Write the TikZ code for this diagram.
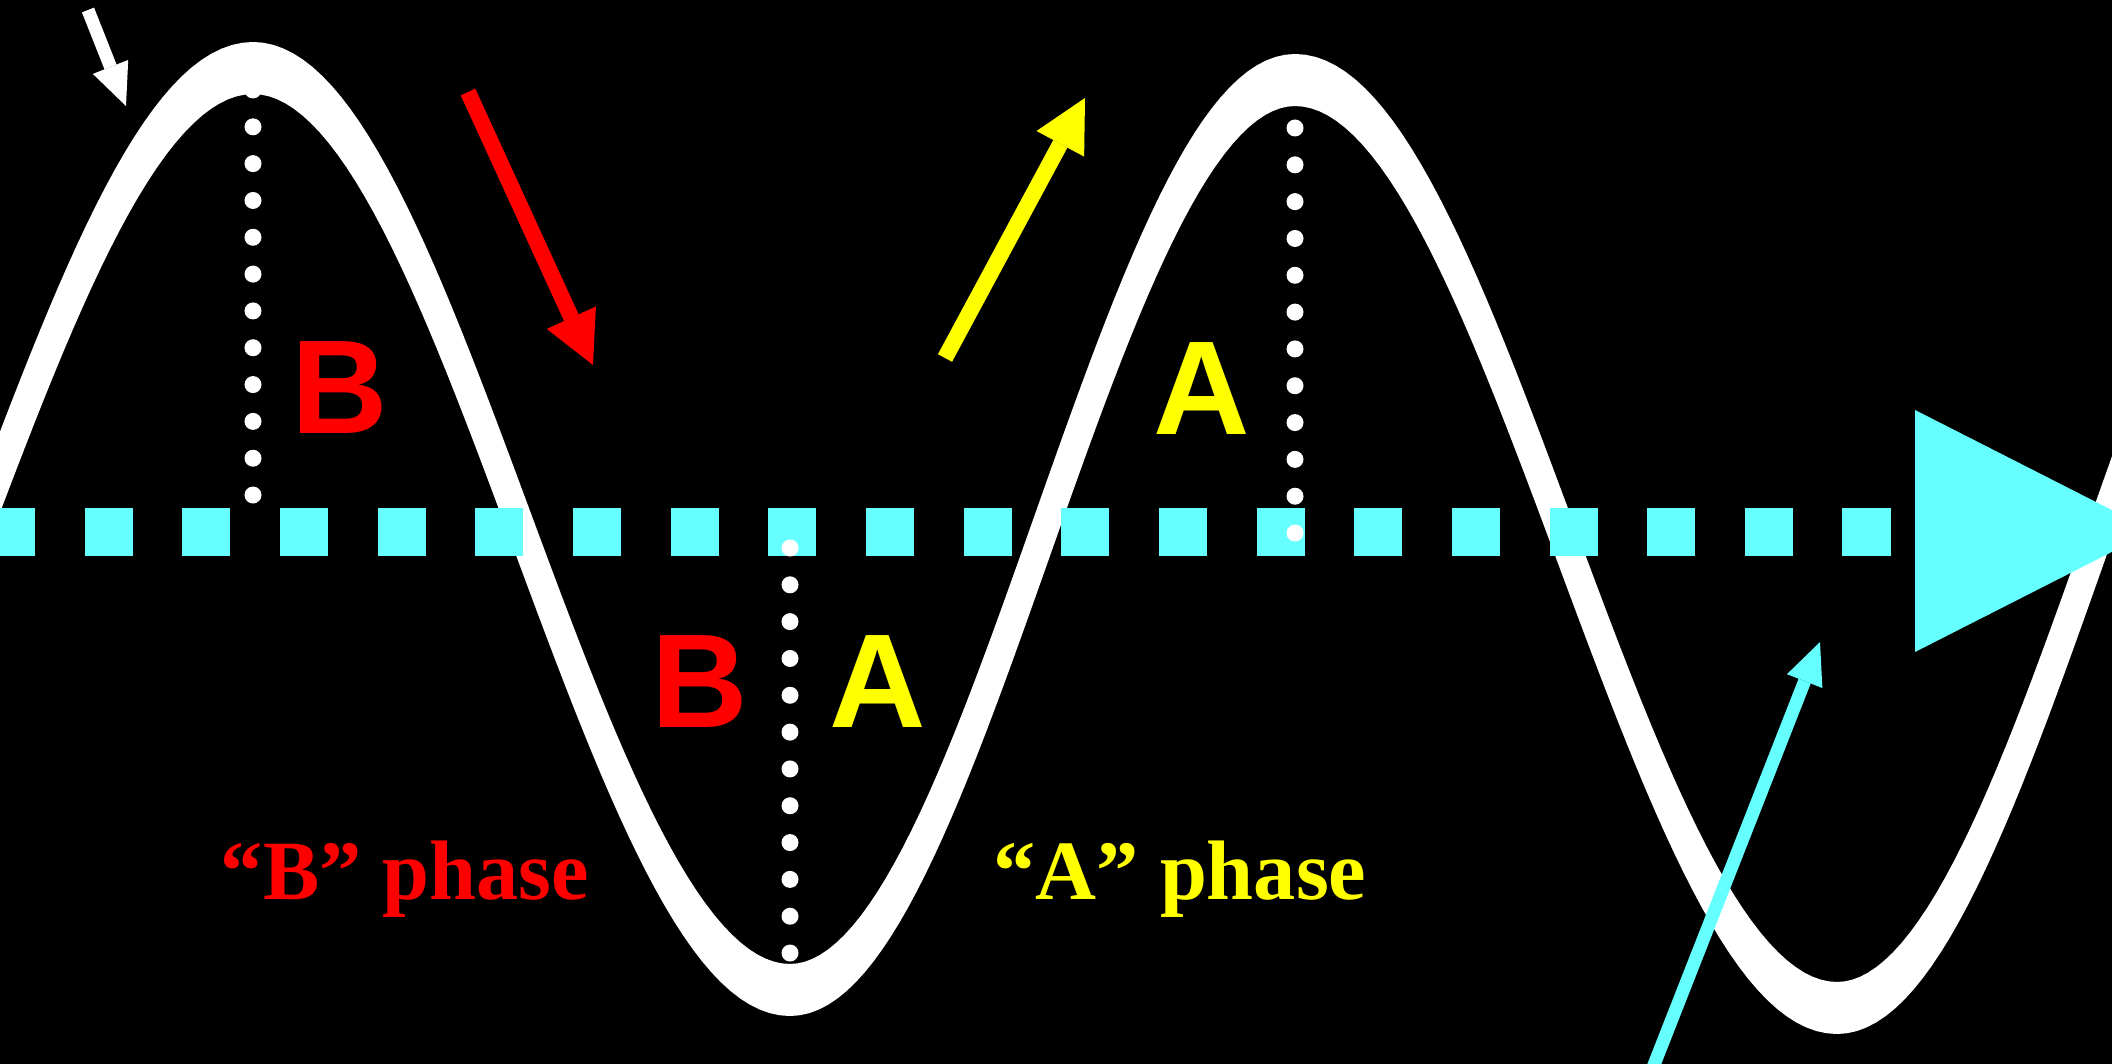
\documentclass[tikz,border=0pt]{standalone}
\usepackage{fontspec}
\setmainfont{Liberation Serif}
\setsansfont{Liberation Sans}
\usetikzlibrary{arrows.meta}
\definecolor{cred}{HTML}{FF0000}
\definecolor{cyellow}{HTML}{FFFF00}
\definecolor{ccyan}{HTML}{66FFFF}
\tikzset{
  wave/.style={fill=white, draw=white, line width=0.16cm, line join=round},
  axis/.style={draw=ccyan, line width=0.48cm, dash pattern=on 0.48cm off 0.496cm},
  dotline/.style={draw=white, line width=0.17cm, line cap=round, dash pattern=on 0pt off 0.368cm},
  bigarrow/.style={draw=#1, line width=0.16cm, -{Triangle[length=0.52cm, width=0.54cm, line width=0pt]}},
  smallarrow/.style={draw=#1, line width=0.13cm, -{Triangle[length=0.42cm, width=0.38cm, line width=0pt]}},
  letter/.style={text=#1, font=\sffamily\bfseries\fontsize{38}{40}\selectfont, inner sep=0pt, anchor=base},
  phase/.style={text=#1, font=\bfseries\fontsize{24}{26}\selectfont, inner sep=0pt, anchor=base},
}

\begin{document}
\begin{tikzpicture}[x=0.01cm, y=-0.01cm]
  \useasboundingbox (0,0) rectangle (2112,1064);
  \fill[black] (0,0) rectangle (2112,1064);
  \clip (0,0) rectangle (2112,1064);
  \foreach \xa/\ya/\xb/\yb in {-300/1000/253/68, 253/68/790/990, 790/990/1295/80, 1295/80/1837/1008, 1837/1008/2358/70}
    \path[wave] plot[domain=\xa:\xb, samples=60] (\x, {(\ya+\yb)/2-18+(\ya-\yb)/2*cos(180/(\xb-\xa)*(\x-\xa))})
      -- plot[domain=\xb:\xa, samples=60] (\x, {(\ya+\yb)/2+18+(\ya-\yb)/2*cos(180/(\xb-\xa)*(\x-\xa))}) -- cycle;
  \draw[axis] (-13,532) -- (1895,532);
  \fill[ccyan] (1915,410) -- (2153,531) -- (1915,652) -- cycle;

  \coordinate (peakB) at (253,90);
  \coordinate (footB) at (253,496);
  \coordinate (axisM) at (790,548);
  \coordinate (troughM) at (790,954);
  \coordinate (peakA) at (1295,128);
  \coordinate (footA) at (1295,534);
  \draw[dotline] (peakB) -- (footB);
  \draw[dotline] (axisM) -- (troughM);
  \draw[dotline] (peakA) -- (footA);

  \node[letter=cred] (upB) at (340,434) {B};
  \node[letter=cred] (lowB) at (700,727) {B};
  \node[letter=cyellow] (lowA) at (878,727) {A};
  \node[letter=cyellow] (upA) at (1202,435) {A};
  \node[phase=cred] (phaseB) at (405,899) {“B” phase};
  \node[phase=cyellow] (phaseA) at (1180,899) {“A” phase};

  \coordinate (wtail) at (88,10);
  \coordinate (wtip) at (126,106);
  \coordinate (rtail) at (468,92);
  \coordinate (rtip) at (593,365);
  \coordinate (ytail) at (945,358);
  \coordinate (ytip) at (1085,98);
  \coordinate (ctail) at (1650,1075);
  \coordinate (ctip) at (1820,642);
  \draw[smallarrow=white] (wtail) -- (wtip);
  \draw[bigarrow=cred] (rtail) -- (rtip);
  \draw[bigarrow=cyellow] (ytail) -- (ytip);
  \draw[smallarrow=ccyan] (ctail) -- (ctip);
\end{tikzpicture}
\end{document}
